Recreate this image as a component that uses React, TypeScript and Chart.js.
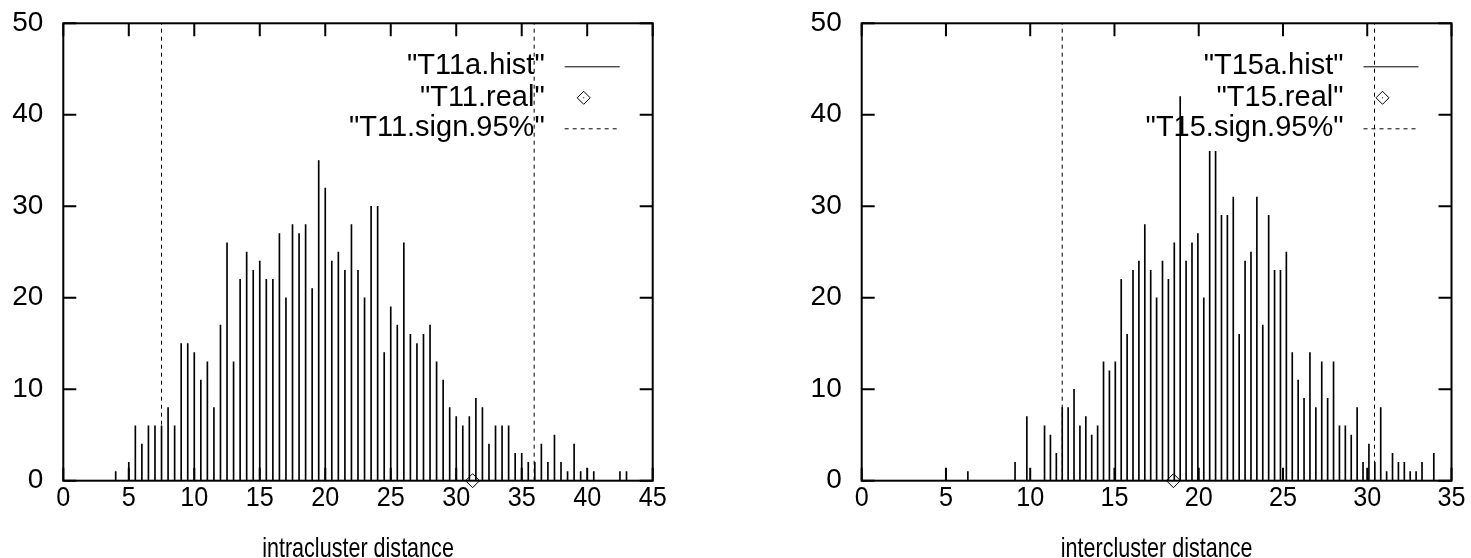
import React, { useEffect, useRef } from 'react';
import { Chart, registerables } from 'chart.js';

Chart.register(...registerables);

// ---------- data: left panel (intracluster) ----------
const intraBins = [
  4, 5, 5.5, 6, 6.5, 7, 7.5, 8, 8.5, 9, 9.5, 10, 10.5, 11, 11.5, 12, 12.5, 13, 13.5, 14,
  14.5, 15, 15.5, 16, 16.5, 17, 17.5, 18, 18.5, 19, 19.5, 20, 20.5, 21, 21.5, 22, 22.5, 23,
  23.5, 24, 24.5, 25, 25.5, 26, 26.5, 27, 27.5, 28, 28.5, 29, 29.5, 30, 30.5, 31, 31.5, 32,
  32.5, 33, 33.5, 34, 34.5, 35, 35.5, 36, 36.5, 37, 37.5, 38, 38.5, 39, 39.5, 40.5, 42.5, 43,
];
const intraCounts = [
  1, 2, 6, 4, 6, 6, 6, 8, 6, 15, 15, 14, 11, 13, 8, 17, 26, 13, 22, 25,
  23, 24, 22, 22, 27, 20, 28, 27, 28, 21, 35, 32, 24, 25, 23, 28, 23, 20,
  30, 30, 14, 19, 17, 26, 16, 15, 16, 17, 13, 11, 8, 7, 6, 7, 9, 8,
  4, 6, 6, 6, 3, 3, 2, 2, 4, 2, 5, 2, 1, 4, 1, 1, 1, 1,
];
const intraReal = [31.25];
const intraSign = [7.5, 35.95];

// ---------- data: right panel (intercluster) ----------
const interBins = [
  6.3, 9.1, 9.8, 10.85, 11.2, 11.55, 11.9, 12.25, 12.6, 12.95, 13.3, 13.65, 14.0, 14.35,
  14.7, 15.05, 15.4, 15.75, 16.1, 16.45, 16.8, 17.15, 17.5, 17.85, 18.2, 18.55, 18.9, 19.25,
  19.6, 19.95, 20.3, 20.65, 21.0, 21.35, 21.7, 22.05, 22.4, 22.75, 23.1, 23.45, 23.8, 24.15,
  24.5, 24.85, 25.2, 25.55, 25.9, 26.25, 26.6, 26.95, 27.3, 27.65, 28.0, 28.35, 28.7, 29.05,
  29.4, 29.75, 30.1, 30.45, 30.8, 31.15, 31.5, 31.85, 32.2, 32.55, 32.9, 33.25, 33.95,
];
const interCounts = [
  1, 2, 7, 6, 5, 3, 8, 8, 10, 6, 7, 5, 6, 13,
  12, 13, 22, 16, 23, 24, 28, 23, 20, 24, 22, 26, 42, 24,
  26, 27, 20, 36, 36, 29, 29, 31, 16, 24, 25, 31, 17, 29,
  23, 23, 25, 14, 11, 9, 14, 8, 13, 9, 13, 6, 6, 5,
  8, 2, 4, 2, 8, 1, 3, 2, 2, 1, 1, 2, 3,
];
const interReal = [18.5];
const interSign = [11.9, 30.43];

// ---------- labels ----------
const intraLegend = ['"T11a.hist"', '"T11.real"', '"T11.sign.95%"'];
const interLegend = ['"T15a.hist"', '"T15.real"', '"T15.sign.95%"'];
const intraTitle = 'intracluster distance';
const interTitle = 'intercluster distance';

const Y_MAX = 50;
const Y_STEP = 10;
const X_STEP = 5;

const FONT = '"Liberation Sans", Arial, Helvetica, sans-serif';
const TICK_SQUEEZE = 0.9; // horizontal squeeze of the x tick labels
const TITLE_SQUEEZE = 0.77; // horizontal squeeze of the x title

type PanelCfg = {
  bins: number[];
  counts: number[];
  real: number[];
  sign: number[];
  legend: string[];
  title: string;
  xMax: number;
  axisWidth: number;
  padRight: number;
};

function drawDiamond(ctx: CanvasRenderingContext2D, x: number, y: number, r: number) {
  ctx.beginPath();
  ctx.moveTo(x, y - r);
  ctx.lineTo(x + r, y);
  ctx.lineTo(x, y + r);
  ctx.lineTo(x - r, y);
  ctx.closePath();
  ctx.stroke();
}

function squeezedText(ctx: CanvasRenderingContext2D, text: string, x: number, y: number, k: number) {
  ctx.save();
  ctx.translate(x, y);
  ctx.scale(k, 1);
  ctx.fillText(text, 0, 0);
  ctx.restore();
}

function makeChart(canvas: HTMLCanvasElement, cfg: PanelCfg) {
  const framePlugin = {
    id: 'gnuplotFrame',
    beforeDatasetsDraw(chart: any) {
      const { ctx, chartArea } = chart;
      const { left, right, top, bottom } = chartArea;
      ctx.save();
      ctx.strokeStyle = '#000';
      ctx.fillStyle = '#000';
      // frame
      ctx.lineWidth = 2;
      ctx.strokeRect(left, top, right - left, bottom - top);
      // ticks on all sides (inward)
      const tl = 13;
      const xs = chart.scales.x;
      const ys = chart.scales.y;
      xs.ticks.forEach((t: any) => {
        const px = xs.getPixelForValue(t.value);
        ctx.beginPath();
        ctx.moveTo(px, bottom);
        ctx.lineTo(px, bottom - tl);
        ctx.moveTo(px, top);
        ctx.lineTo(px, top + tl);
        ctx.stroke();
      });
      ys.ticks.forEach((t: any) => {
        const py = ys.getPixelForValue(t.value);
        ctx.beginPath();
        ctx.moveTo(left, py);
        ctx.lineTo(left + tl, py);
        ctx.moveTo(right, py);
        ctx.lineTo(right - tl, py);
        ctx.stroke();
      });
      // x tick labels and x title
      ctx.font = '28px ' + FONT;
      ctx.textAlign = 'center';
      ctx.textBaseline = 'alphabetic';
      xs.ticks.forEach((t: any) => {
        squeezedText(ctx, String(t.value), xs.getPixelForValue(t.value), bottom + 25, TICK_SQUEEZE);
      });
      squeezedText(ctx, cfg.title, (left + right) / 2, 556.5, TITLE_SQUEEZE);
      // legend (inside, top right)
      ctx.font = '29px ' + FONT;
      ctx.textAlign = 'right';
      const rows = [top + 43, top + 74.5, top + 105];
      const textX = right - 108;
      const s0 = right - 88;
      const s1 = right - 33;
      cfg.legend.forEach((lbl, i) => {
        ctx.fillText(lbl, textX, rows[i] + 8);
      });
      ctx.lineWidth = 1;
      ctx.beginPath();
      ctx.moveTo(s0, rows[0] + 0.5);
      ctx.lineTo(s1, rows[0] + 0.5);
      ctx.stroke();
      const dx = right - 69;
      drawDiamond(ctx, dx, rows[1], 6.5);
      ctx.fillRect(dx - 0.5, rows[1] - 0.5, 1, 1);
      ctx.setLineDash([4, 4]);
      ctx.beginPath();
      ctx.moveTo(s0, rows[2] + 0.5);
      ctx.lineTo(s1, rows[2] + 0.5);
      ctx.stroke();
      ctx.setLineDash([]);
      ctx.restore();
    },
  };

  const datasets: any[] = [
    {
      type: 'bar',
      data: cfg.bins.map((b, i) => ({ x: b, y: cfg.counts[i] })),
      backgroundColor: '#000',
      borderWidth: 0,
      barThickness: 1,
      order: 2,
    },
    ...cfg.sign.map((v) => ({
      type: 'line',
      data: [
        { x: v, y: 0 },
        { x: v, y: Y_MAX },
      ],
      borderColor: '#000',
      borderWidth: 1,
      borderDash: [4, 4],
      pointRadius: 0,
      fill: false,
      order: 1,
    })),
    {
      type: 'line',
      showLine: false,
      data: cfg.real.map((v) => ({ x: v, y: 0 })),
      pointStyle: 'rectRot',
      pointRadius: 7,
      borderColor: '#000',
      backgroundColor: 'rgba(0,0,0,0)',
      pointBorderWidth: 1,
      clip: false,
      order: 0,
    },
  ];

  return new Chart(canvas, {
    type: 'bar',
    data: { datasets },
    plugins: [framePlugin],
    options: {
      animation: false,
      responsive: false,
      events: [],
      layout: { padding: { left: 0, top: 23.3, right: cfg.padRight, bottom: 0 } },
      plugins: {
        legend: { display: false },
        tooltip: { enabled: false },
        title: { display: false },
      },
      scales: {
        x: {
          type: 'linear',
          offset: false,
          min: 0,
          max: cfg.xMax,
          grid: { display: false, drawTicks: false, offset: false },
          border: { display: false },
          ticks: {
            display: false,
            stepSize: X_STEP,
            autoSkip: false,
            maxRotation: 0,
            padding: 0,
          },
          title: { display: false },
          afterFit: (s: any) => {
            s.height = 558 - 480.7;
          },
        },
        y: {
          type: 'linear',
          min: 0,
          max: Y_MAX,
          grid: { display: false, drawTicks: false },
          border: { display: false },
          ticks: {
            stepSize: Y_STEP,
            padding: 20,
            color: '#000',
            font: { family: FONT, size: 28, lineHeight: 0.2 },
          },
          afterFit: (s: any) => {
            s.width = cfg.axisWidth;
          },
        },
      },
    } as any,
  });
}

export default function App() {
  const leftRef = useRef<HTMLCanvasElement | null>(null);
  const rightRef = useRef<HTMLCanvasElement | null>(null);

  useEffect(() => {
    const charts: Chart[] = [];
    if (leftRef.current) {
      charts.push(
        makeChart(leftRef.current, {
          bins: intraBins,
          counts: intraCounts,
          real: intraReal,
          sign: intraSign,
          legend: intraLegend,
          title: intraTitle,
          xMax: 45,
          axisWidth: 63.3,
          padRight: 735 - 652.7,
        })
      );
    }
    if (rightRef.current) {
      charts.push(
        makeChart(rightRef.current, {
          bins: interBins,
          counts: interCounts,
          real: interReal,
          sign: interSign,
          legend: interLegend,
          title: interTitle,
          xMax: 35,
          axisWidth: 861.7 - 735,
          padRight: 736 - 716.5,
        })
      );
    }
    return () => charts.forEach((c) => c.destroy());
  }, []);

  return (
    <div style={{ position: 'absolute', left: 0, top: 0, width: 1471, height: 558, background: '#fff' }}>
      <canvas
        ref={leftRef}
        width={735}
        height={558}
        style={{ position: 'absolute', left: 0, top: 0, width: 735, height: 558 }}
      />
      <canvas
        ref={rightRef}
        width={736}
        height={558}
        style={{ position: 'absolute', left: 735, top: 0, width: 736, height: 558 }}
      />
    </div>
  );
}
